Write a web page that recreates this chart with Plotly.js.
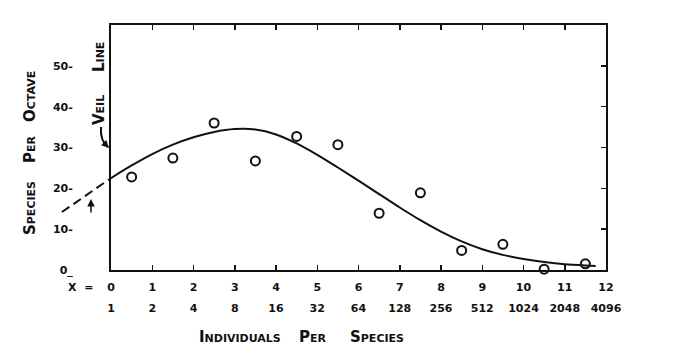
<!DOCTYPE html>
<html><head><meta charset="utf-8">
<script src="https://cdn.plot.ly/plotly-3.0.1.min.js"></script>
<style>html,body{margin:0;padding:0;background:#fff}#chart{width:686px;height:356px}</style>
</head><body><div id="chart"></div>
<script>
// ---- data ----
const octaveTicks = [0,1,2,3,4,5,6,7,8,9,10,11,12];
const octaveLabels = ['0','1','2','3','4','5','6','7','8','9','10','11','12'];
const individualsLabels = ['1','2','4','8','16','32','64','128','256','512','1024','2048','4096'];
const yTickVals = [0,10,20,30,40,50];
const yTickLabels = ['0_','10-','20-','30-','40-','50-'];
const rightTickVals = [10,20,30,40,50];

const octaveMid = [0.5,1.5,2.5,3.5,4.5,5.5,6.5,7.5,8.5,9.5,10.5,11.5];
const speciesPerOctave = [22.8,27.4,36.0,26.7,32.7,30.7,13.9,18.9,4.8,6.3,0.2,1.5];

const curveX = [0,0.5,1,1.5,2,2.5,3,3.5,4,4.5,5,5.5,6,6.5,7,7.5,8,8.5,9,9.5,10,10.5,11,11.5,11.75];
const curveY = [22.5,25.6,28.4,30.7,32.5,33.8,34.5,34.4,33.2,31.0,28.2,25.1,21.9,18.6,15.3,12.2,9.4,7.0,5.1,3.7,2.7,1.95,1.4,1.1,1.0];

const veilX = [-1.19,0];
const veilY = [14.2,22.5];

// ---- geometry helpers (pixel -> paper) ----
const W = 686, H = 356, ML = 40, MR = 80, MT = 25, MB = 86;
const PW = W - ML - MR, PH = H - MT - MB;
const px = x => (x - ML) / PW;
const py = y => (H - MB - y) / PH;
const axisLeft = px(111);
const unit = (PW * (1 - axisLeft)) / 12;
const x2min = -(PW * axisLeft) / unit;

const INK = '#111';
const FAM = '"DejaVu Sans", "Liberation Sans", sans-serif';
const tickFont = {family: FAM, size: 11, color: INK, weight: 'bold'};
const capFont = {family: FAM, size: 15, color: INK, weight: 'bold', variant: 'small-caps'};

const traces = [
  {x: curveX, y: curveY, xaxis: 'x', yaxis: 'y', mode: 'lines',
   line: {color: INK, width: 2, shape: 'spline', smoothing: 0.8}, hoverinfo: 'skip'},
  {x: octaveMid, y: speciesPerOctave, xaxis: 'x', yaxis: 'y', mode: 'markers', cliponaxis: false,
   marker: {symbol: 'circle-open', size: 9, color: INK, line: {width: 2, color: INK}}},
  {x: veilX, y: veilY, xaxis: 'x2', yaxis: 'y2', mode: 'lines',
   line: {color: INK, width: 2, dash: '9px,5px'}, hoverinfo: 'skip'},
  {x: octaveTicks, y: octaveTicks.map(() => 0), xaxis: 'x4', yaxis: 'y', mode: 'markers',
   marker: {opacity: 0}, hoverinfo: 'skip'},
  {x: octaveTicks, y: octaveTicks.map(() => 0), xaxis: 'x', yaxis: 'y3', mode: 'markers',
   marker: {opacity: 0}, hoverinfo: 'skip'}
];

function word(text, x, y, rot) {
  return {xref: 'paper', yref: 'paper', x: px(x), y: py(y), text: text, showarrow: false,
          textangle: rot || 0, font: capFont, xanchor: 'center', yanchor: 'middle'};
}

const layout = {
  width: W, height: H, showlegend: false,
  paper_bgcolor: '#fff', plot_bgcolor: 'rgba(0,0,0,0)',
  margin: {l: ML, r: MR, t: MT, b: MB, pad: 0},
  xaxis: {domain: [axisLeft, 1], range: [0, 12], anchor: 'y',
          tickmode: 'array', tickvals: octaveTicks, ticktext: octaveLabels,
          ticks: 'inside', ticklen: 5, tickwidth: 1.5, tickcolor: INK,
          showline: true, linewidth: 2, linecolor: INK, mirror: 'ticks',
          showgrid: false, zeroline: false, tickfont: tickFont, ticklabelstandoff: 6},
  xaxis4: {overlaying: 'x', anchor: 'y', side: 'bottom', range: [0, 12],
           tickmode: 'array', tickvals: octaveTicks, ticktext: individualsLabels,
           ticks: '', showline: false, showgrid: false, zeroline: false,
           tickfont: tickFont, ticklabelstandoff: 30},
  yaxis: {domain: [0, 1], range: [0, 60], anchor: 'x',
          tickmode: 'array', tickvals: yTickVals, ticktext: yTickLabels,
          ticks: '', showline: true, linewidth: 2, linecolor: INK, mirror: true,
          showgrid: false, zeroline: false, tickfont: tickFont, ticklabelstandoff: 34},
  yaxis3: {overlaying: 'y', anchor: 'x', side: 'right', range: [0, 60],
           tickmode: 'array', tickvals: rightTickVals, ticks: 'inside', ticklen: 5,
           tickwidth: 1.5, tickcolor: INK, showticklabels: false,
           showline: false, showgrid: false, zeroline: false},
  xaxis2: {domain: [0, 1], range: [x2min, 12], anchor: 'y2', visible: false},
  yaxis2: {domain: [0, 1], range: [0, 60], anchor: 'x2', visible: false},
  shapes: [
    {type: 'path', xref: 'paper', yref: 'paper',
     path: `M ${px(101)},${py(127)} Q ${px(100)},${py(141)} ${px(108)},${py(147)}`,
     line: {color: INK, width: 2}}
  ],
  annotations: [
    {xref: 'paper', yref: 'paper', x: px(80), y: py(287), text: 'X  =', showarrow: false,
     font: tickFont, xanchor: 'center', yanchor: 'middle'},
    word('Individuals', 240, 337), word('Per', 313, 337), word('Species', 377, 337),
    word('Species', 30, 208, -90), word('Per', 30, 149, -90), word('Octave', 30, 97, -90),
    word('Veil', 99, 110, -90), word('Line', 99, 57, -90),
    {xref: 'paper', yref: 'paper', x: px(109), y: py(148), ax: -4, ay: -4, text: '',
     showarrow: true, arrowhead: 2, arrowsize: 1, arrowwidth: 1.5, arrowcolor: INK},
    {xref: 'paper', yref: 'paper', x: px(91), y: py(199), ax: 0, ay: 15, text: '',
     showarrow: true, arrowhead: 2, arrowsize: 1, arrowwidth: 1.5, arrowcolor: INK}
  ]
};

Plotly.newPlot('chart', traces, layout, {staticPlot: true, displayModeBar: false});
</script></body></html>
